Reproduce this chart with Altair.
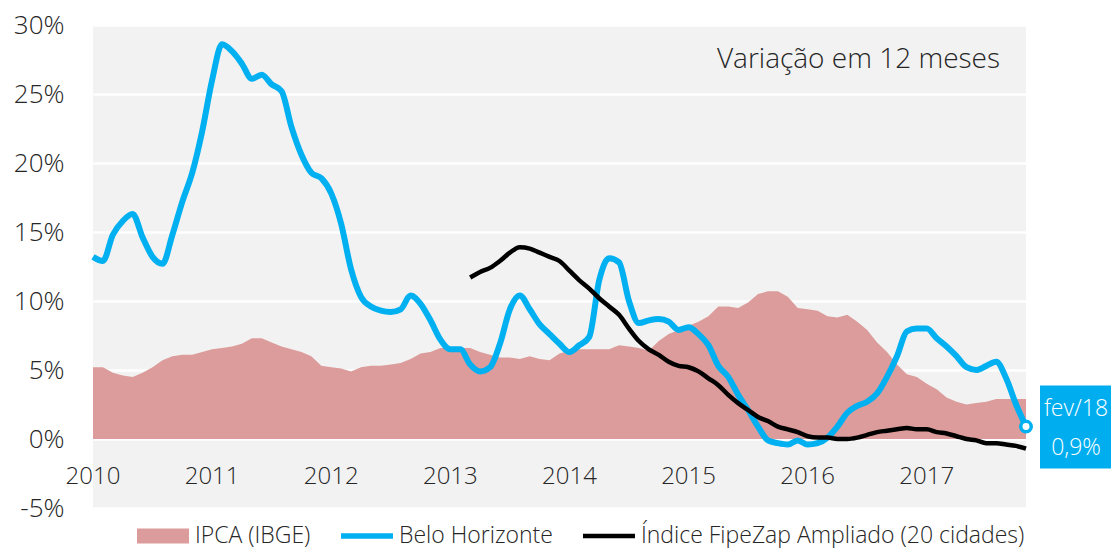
import altair as alt
import pandas as pd

# ---------------- data (12-month change, %) ----------------
year_labels = ["2010", "2011", "2012", "2013", "2014", "2015", "2016", "2017"]
year_months = [0, 12, 24, 36, 48, 60, 72, 84]
months = list(range(95))  # monthly points along the x axis

belo_horizonte = [
    13.2, 12.9, 14.8, 15.8, 16.3, 14.6, 13.2, 12.7, 14.8, 17.2,
    19.3, 22.3, 26.0, 28.6, 28.1, 27.2, 26.1, 26.4, 25.7, 25.2,
    22.6, 20.6, 19.3, 18.9, 17.8, 15.6, 12.3, 10.3, 9.6, 9.3,
    9.2, 9.4, 10.4, 9.8, 8.6, 7.2, 6.5, 6.5, 5.4, 4.9,
    5.2, 6.9, 9.4, 10.4, 9.4, 8.3, 7.6, 6.9, 6.3, 6.8,
    7.4, 11.5, 13.1, 12.8, 10.0, 8.4, 8.6, 8.7, 8.5, 7.9,
    8.1, 7.6, 6.8, 5.3, 4.5, 3.2, 2.1, 0.9, -0.1, -0.3,
    -0.4, -0.1, -0.4, -0.3, 0.1, 0.9, 1.9, 2.4, 2.7, 3.3,
    4.5, 6.0, 7.8, 8.0, 8.0, 7.3, 6.7, 6.0, 5.2, 5.0,
    5.3, 5.6, 4.4, 2.5, 0.9,
]

ipca = [
    5.2, 5.2, 4.8, 4.6, 4.5, 4.8, 5.2, 5.7, 6.0, 6.1,
    6.1, 6.3, 6.5, 6.6, 6.7, 6.9, 7.3, 7.3, 7.0, 6.7,
    6.5, 6.3, 6.0, 5.3, 5.2, 5.1, 4.9, 5.2, 5.3, 5.3,
    5.4, 5.5, 5.8, 6.2, 6.3, 6.6, 6.6, 6.6, 6.6, 6.3,
    6.1, 5.9, 5.9, 5.8, 6.0, 5.8, 5.7, 6.2, 6.4, 6.5,
    6.5, 6.5, 6.5, 6.8, 6.7, 6.6, 6.4, 7.1, 7.6, 7.9,
    8.2, 8.5, 8.9, 9.6, 9.6, 9.5, 9.9, 10.5, 10.7, 10.7,
    10.3, 9.5, 9.4, 9.3, 8.9, 8.8, 9.0, 8.5, 7.9, 7.0,
    6.3, 5.4, 4.7, 4.5, 4.0, 3.6, 3.0, 2.7, 2.5, 2.6,
    2.7, 2.9, 2.9, 2.9, 2.9,
]

fipezap_start = 38
fipezap = [
    11.7, 12.1, 12.4, 12.9, 13.5, 13.9, 13.8, 13.5, 13.2, 12.9,
    12.2, 11.5, 10.9, 10.2, 9.6, 9.0, 8.0, 7.1, 6.5, 6.1,
    5.6, 5.3, 5.2, 4.9, 4.4, 3.9, 3.2, 2.6, 2.1, 1.6,
    1.3, 0.9, 0.7, 0.5, 0.2, 0.1, 0.1, 0.0, 0.0, 0.1,
    0.3, 0.5, 0.6, 0.7, 0.8, 0.7, 0.7, 0.5, 0.4, 0.2,
    0.0, -0.1, -0.3, -0.3, -0.4, -0.5, -0.7,
]

series_names = ["IPCA (IBGE)", "Belo Horizonte", "Índice FipeZap Ampliado (20 cidades)"]
series_colors = ["#DB9C9B", "#00B0F0", "#000000"]

annot_date = "fev/18"
annot_value = "0,9%"

# ---------------- tables ----------------
df_ipca = pd.DataFrame({"m": months, "v": ipca})
df_lines = pd.concat([
    pd.DataFrame({"m": months, "v": belo_horizonte, "s": series_names[1]}),
    pd.DataFrame({"m": months[fipezap_start:], "v": fipezap, "s": series_names[2]}),
])
df_years = pd.DataFrame({"m": year_months, "t": year_labels})
df_last = pd.DataFrame({"m": [months[-1]], "v": [belo_horizonte[-1]],
                        "d": [annot_date], "p": [annot_value]})
df_legend = pd.DataFrame({"s": series_names, "m": [None] * 3, "v": [None] * 3})

FONT = "Open Sans"
TXT = "#262626"

x_scale = alt.Scale(domain=[months[0], months[-1]], nice=False, zero=False)
y_scale = alt.Scale(domain=[-5, 30], nice=False, zero=False)

x_enc = alt.X("m:Q", scale=x_scale, title=None, axis=None)
y_enc = alt.Y("v:Q", scale=y_scale, title=None,
              axis=alt.Axis(values=list(range(-5, 31, 5)),
                            labelExpr="datum.value + '%'",
                            domain=False, ticks=False,
                            gridColor="#FFFFFF", gridWidth=2.5, gridOpacity=1,
                            labelFontSize=26, labelFont=FONT, labelFontWeight=300,
                            labelColor=TXT, labelPadding=29))

area = alt.Chart(df_ipca).mark_area(color=series_colors[0], interpolate="linear").encode(
    x=x_enc, y=y_enc, y2=alt.datum(0)
)

lines = alt.Chart(df_lines).mark_line(interpolate="monotone").encode(
    x="m:Q", y="v:Q",
    color=alt.Color("s:N", scale=alt.Scale(domain=series_names[1:], range=series_colors[1:]), legend=None),
    strokeWidth=alt.StrokeWidth("s:N", scale=alt.Scale(domain=series_names[1:], range=[6, 4.5]), legend=None),
    detail="s:N",
)

# year labels sit inside the plot, below the zero line
years = alt.Chart(df_years).mark_text(font=FONT, fontWeight=300, fontSize=24, color=TXT,
                                      align="center", baseline="middle").encode(
    x="m:Q", y=alt.datum(-2.75), text="t:N")

end_point = alt.Chart(df_last).mark_point(filled=True, fill="#FFFFFF", stroke=series_colors[1],
                                          strokeWidth=3.5, size=110, opacity=1).encode(x="m:Q", y="v:Q")

box = alt.Chart(df_last).mark_rect(color="#00AEEF", xOffset=14, x2Offset=100,
                                   yOffset=-41, y2Offset=42).encode(
    x="m:Q", x2="m:Q", y="v:Q", y2="v:Q")
box_t1 = alt.Chart(df_last).mark_text(color="#FFFFFF", font=FONT, fontWeight=300, fontSize=23,
                                      dx=50, dy=-18, align="center", baseline="middle").encode(
    x="m:Q", y="v:Q", text="d:N")
box_t2 = alt.Chart(df_last).mark_text(color="#FFFFFF", font=FONT, fontWeight=300, fontSize=23,
                                      dx=50, dy=21, align="center", baseline="middle").encode(
    x="m:Q", y="v:Q", text="p:N")

legend_paths = [
    "M-1,-0.29L1,-0.29L1,0.29L-1,0.29Z",
    "M-1,-0.11L1,-0.11L1,0.11L-1,0.11Z",
    "M-1,-0.09L1,-0.09L1,0.09L-1,0.09Z",
]
leg = alt.Legend(orient="none", legendX=44, legendY=485, direction="horizontal", title=None,
                 symbolSize=2704, symbolStrokeWidth=0, symbolOpacity=1,
                 labelFontSize=23, labelFont=FONT, labelFontWeight=300, labelColor=TXT,
                 labelOffset=6, columnPadding=30, labelLimit=500)
legend_layer = alt.Chart(df_legend).mark_point(filled=True).encode(
    x="m:Q", y="v:Q",
    fill=alt.Fill("s:N", scale=alt.Scale(domain=series_names, range=series_colors), legend=leg),
    shape=alt.Shape("s:N", scale=alt.Scale(domain=series_names, range=legend_paths), legend=leg),
)

chart = alt.layer(area, lines, years, end_point, box, box_t1, box_t2, legend_layer).properties(
    width=933, height=483,
    background="#FFFFFF",
    title=alt.TitleParams("Variação em 12 meses", anchor="end", orient="top", frame="group",
                          fontSize=28, font=FONT, fontWeight=300, color=TXT,
                          dx=-26, dy=66),
    autosize=alt.AutoSizeParams(type="none"),
    padding={"left": 85, "top": 17, "right": 85, "bottom": 40},
).configure_view(fill="#F2F2F2", stroke=None)

chart.save("out.html", embed_options={"renderer": "svg", "actions": False})
